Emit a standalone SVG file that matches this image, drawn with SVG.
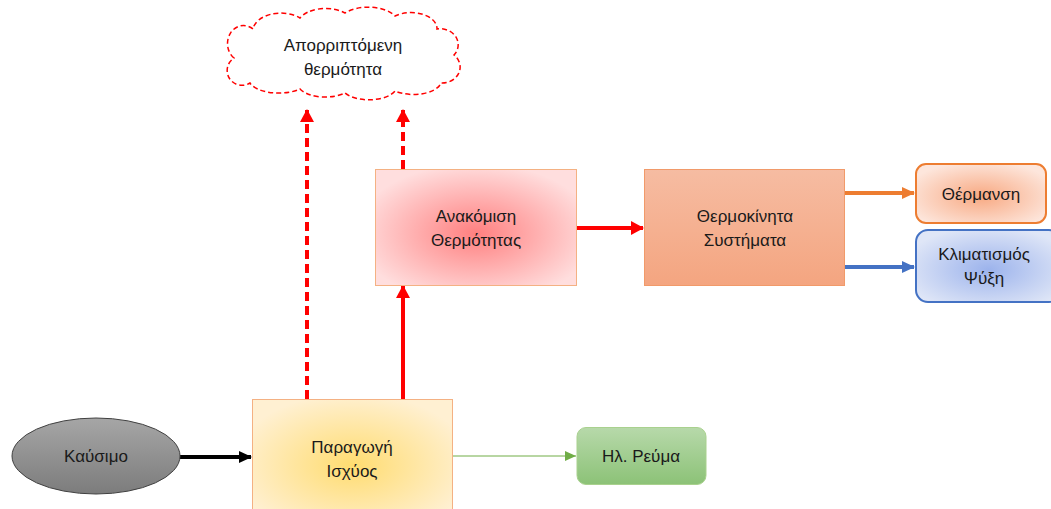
<svg xmlns="http://www.w3.org/2000/svg" width="1051" height="509" viewBox="0 0 1051 509">
<style>
text{font-family:"Liberation Sans","Noto Sans",sans-serif;font-size:17px;fill:#1a1a1a;text-anchor:middle}
.red{stroke:#ff0000;stroke-width:4;fill:none}
.dash{stroke-dasharray:9 5}
</style>
<defs>
<radialGradient id="gRed" cx="0.5" cy="0.55" r="0.6"><stop offset="0" stop-color="#ff8080"/><stop offset="1" stop-color="#ffdede"/></radialGradient>
<linearGradient id="gOr" x1="0" y1="0" x2="0" y2="1"><stop offset="0" stop-color="#f6bca2"/><stop offset="1" stop-color="#f4a580"/></linearGradient>
<radialGradient id="gHeat" cx="0.5" cy="0.55" r="0.6"><stop offset="0" stop-color="#f8a982"/><stop offset="1" stop-color="#fde6dc"/></radialGradient>
<radialGradient id="gBlue" cx="0.5" cy="0.55" r="0.6"><stop offset="0" stop-color="#9cb3ec"/><stop offset="1" stop-color="#dfe6f7"/></radialGradient>
<radialGradient id="gYel" cx="0.5" cy="0.55" r="0.6"><stop offset="0" stop-color="#ffdc70"/><stop offset="1" stop-color="#fff0d2"/></radialGradient>
<linearGradient id="gGray" x1="0" y1="0" x2="0" y2="1"><stop offset="0" stop-color="#a6a6a6"/><stop offset="1" stop-color="#7c7c7c"/></linearGradient>
<linearGradient id="gGreen" x1="0" y1="0" x2="0" y2="1"><stop offset="0" stop-color="#b7d9aa"/><stop offset="1" stop-color="#8cc277"/></linearGradient>
<marker id="aRed" markerUnits="userSpaceOnUse" markerWidth="14" markerHeight="14" refX="12" refY="7" orient="auto"><path d="M0,0 L13,7 L0,14 Z" fill="#ff0000"/></marker>
<marker id="aBlack" markerUnits="userSpaceOnUse" markerWidth="14" markerHeight="14" refX="12" refY="7" orient="auto"><path d="M0,1 L13,7 L0,13 Z" fill="#000"/></marker>
<marker id="aOr" markerUnits="userSpaceOnUse" markerWidth="14" markerHeight="14" refX="12" refY="7" orient="auto"><path d="M0,1 L13,7 L0,13 Z" fill="#ed7d31"/></marker>
<marker id="aBlue" markerUnits="userSpaceOnUse" markerWidth="14" markerHeight="14" refX="12" refY="7" orient="auto"><path d="M0,1 L13,7 L0,13 Z" fill="#4472c4"/></marker>
<marker id="aGreen" markerUnits="userSpaceOnUse" markerWidth="12" markerHeight="12" refX="11" refY="6" orient="auto"><path d="M0,1 L11,6 L0,11 Z" fill="#70ad47"/></marker>
</defs>

<g id="connectors">
<line x1="180" y1="457" x2="251" y2="457" stroke="#000" stroke-width="4" marker-end="url(#aBlack)"/>
<line x1="452" y1="456" x2="576" y2="456" stroke="#70ad47" stroke-width="1" marker-end="url(#aGreen)"/>
<line x1="403" y1="399" x2="403" y2="286" class="red" marker-end="url(#aRed)"/>
<line x1="307" y1="399" x2="307" y2="110" class="red dash" marker-end="url(#aRed)"/>
<line x1="403" y1="169" x2="403" y2="110" class="red dash" marker-end="url(#aRed)"/>
<line x1="577" y1="228" x2="643" y2="228" class="red" marker-end="url(#aRed)"/>
<line x1="845" y1="193" x2="914" y2="193" stroke="#ed7d31" stroke-width="4" marker-end="url(#aOr)"/>
<line x1="845" y1="267" x2="914" y2="267" stroke="#4472c4" stroke-width="4" marker-end="url(#aBlue)"/>
</g>

<g id="cloud">
<path d="M234,58 A16,18 0 0 1 253,29 A28,18 0 0 1 300,18 A28,16 0 0 1 345,13 A30,16 0 0 1 395,16 A26,16 0 0 1 437,29 A18,16 0 0 1 454,55 A18,16 0 0 1 441,83 A28,14 0 0 1 395,91 A28,14 0 0 1 345,93 A28,14 0 0 1 300,89 A30,14 0 0 1 250,83 A14,14 0 0 1 234,58 Z" fill="#fff" stroke="#ff0000" stroke-width="1.5" stroke-dasharray="5 3"/>
<text x="343" y="51">Απορριπτόμενη</text>
<text x="343" y="75">θερμότητα</text>
</g>

<g id="recovery">
<rect x="375.5" y="169.5" width="201" height="116" fill="url(#gRed)" stroke="#f4b183" stroke-width="1"/>
<text x="476" y="222">Ανακόμιση</text>
<text x="476" y="246">Θερμότητας</text>
</g>

<g id="thermal">
<rect x="644.5" y="169.5" width="200" height="116" fill="url(#gOr)" stroke="#f19a6a" stroke-width="1"/>
<text x="745" y="222">Θερμοκίνητα</text>
<text x="745" y="246">Συστήματα</text>
</g>

<g id="heating">
<rect x="916" y="164" width="130" height="59" rx="10" fill="url(#gHeat)" stroke="#ed7d31" stroke-width="2"/>
<text x="981" y="200">Θέρμανση</text>
</g>

<g id="cooling">
<rect x="916" y="230" width="145" height="72" rx="12" fill="url(#gBlue)" stroke="#4472c4" stroke-width="2"/>
<text x="984" y="260">Κλιματισμός</text>
<text x="984" y="284">Ψύξη</text>
</g>

<g id="fuel">
<ellipse cx="96" cy="456" rx="84" ry="38" fill="url(#gGray)" stroke="#404040" stroke-width="1"/>
<text x="96" y="462">Καύσιμο</text>
</g>

<g id="power">
<rect x="252.5" y="399.5" width="200" height="120" fill="url(#gYel)" stroke="#f4b183" stroke-width="1"/>
<text x="352" y="453">Παραγωγή</text>
<text x="352" y="477">Ισχύος</text>
</g>

<g id="electric">
<rect x="577" y="427.5" width="129" height="57" rx="9" fill="url(#gGreen)" stroke="#a9d18e" stroke-width="1"/>
<text x="641" y="462">Ηλ. Ρεύμα</text>
</g>
</svg>
